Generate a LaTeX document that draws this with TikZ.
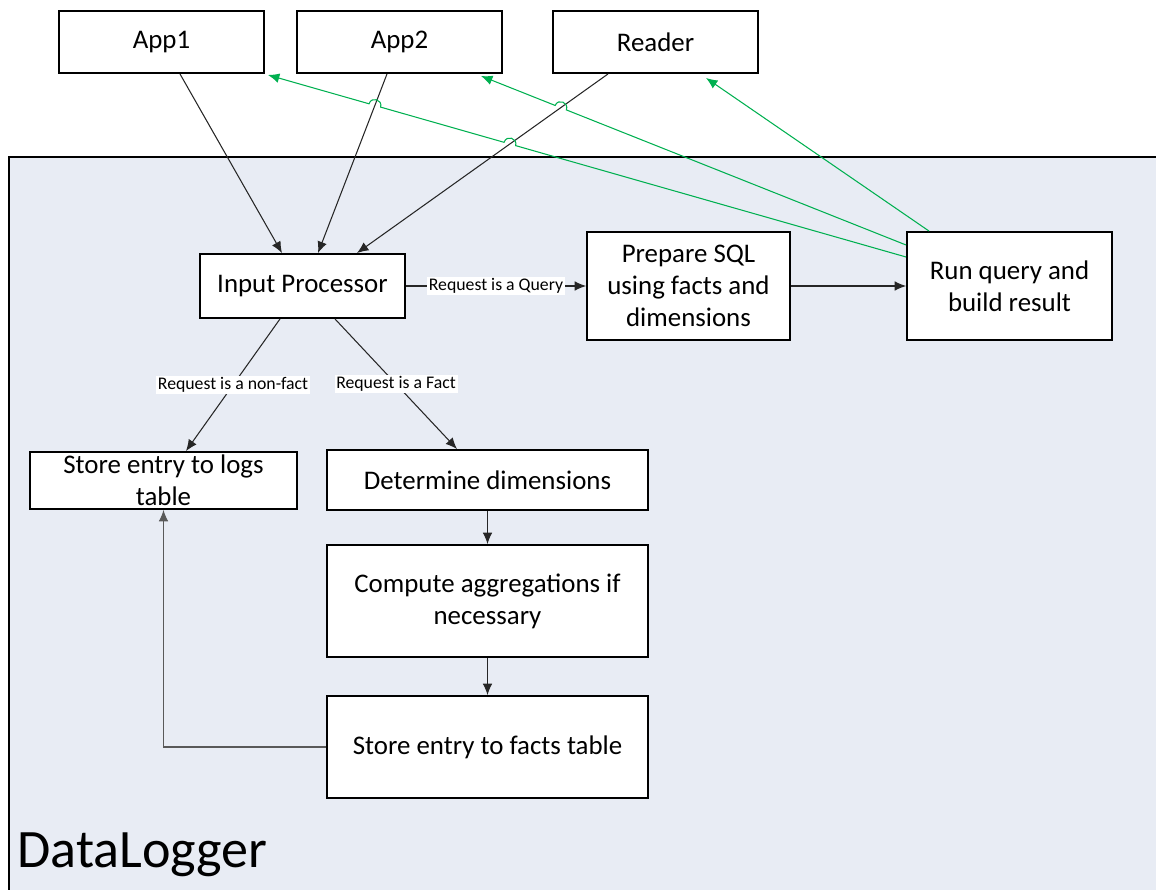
\documentclass[tikz,border=0pt]{standalone}
\usepackage{fontspec}
\setmainfont{Carlito}
\usepackage{tikz}
\usetikzlibrary{arrows.meta}
\usetikzlibrary{calc, intersections}

\definecolor{loggerbg}{RGB}{232,236,244}
\definecolor{replygreen}{RGB}{0,176,80}
\newcommand{\boxfont}{\fontsize{15.3}{18.1}\selectfont}

\tikzset{
  box/.style={draw=black, line width=1.1pt, fill=white, align=center, inner sep=2pt, font=\boxfont},
  flow/.style={draw=black!85, line width=0.6pt, -{Latex[length=6.5pt,width=5.5pt]}},
  reply/.style={draw=replygreen, line width=0.6pt, -{Latex[length=6.5pt,width=5.5pt]}},
  cond/.style={fill=white, inner sep=1pt, font=\fontsize{10.1}{12}\selectfont},
  hop/.style={bend right=90, looseness=1.7}
}

\begin{document}
\begin{tikzpicture}[x=0.02cm, y=-0.02cm]
\useasboundingbox (0,0) rectangle (1156,889);

% the logger itself
\fill[loggerbg] (9,157) rectangle (1180,900);
\draw[line width=0.9pt] (9,900) -- (9,157) -- (1180,157);
\node[anchor=base west, inner sep=0pt, font=\fontsize{30.8}{36}\selectfont] (logger) at (17,867) {DataLogger};

% clients
\node[box, minimum width=4.1cm, minimum height=1.24cm] (app1) at (161.5,42) {App1};
\node[box, minimum width=4.1cm, minimum height=1.24cm] (app2) at (399.5,42) {App2};
\node[box, minimum width=4.1cm, minimum height=1.24cm] (reader) at (655.5,42) {Reader};

% steps inside the logger
\node[box, minimum width=4.1cm, minimum height=1.28cm] (inp) at (302.5,286) {Input Processor};
\node[box, minimum width=4.06cm, minimum height=2.16cm] (prep) at (688.5,286) {Prepare SQL\\using facts and\\dimensions};
\node[box, minimum width=4.1cm, minimum height=2.16cm] (runq) at (1009.5,286) {Run query and\\build result};
\node[box, minimum width=5.34cm, minimum height=1.14cm,
  label={[font=\boxfont, align=center]center:Store entry to logs\\table}] (logs) at (163.5,480.5) {};
\node[box, minimum width=6.42cm, minimum height=1.2cm] (dims) at (487.5,480) {Determine dimensions};
\node[box, minimum width=6.42cm, minimum height=2.24cm] (aggr) at (487.5,601) {Compute aggregations if\\necessary};
\node[box, minimum width=6.42cm, minimum height=2.04cm] (facts) at (487.5,747) {Store entry to facts table};

% requests
\draw[flow] ([shift={(18.5,0)}]app1.south) -- ([shift={(-20.5,0)}]inp.north);
\draw[flow, name path=app2in] ([shift={(-12.5,0)}]app2.south) -- ([shift={(15.5,0)}]inp.north);
\draw[flow, name path=readerin] ([shift={(-47.5,0)}]reader.south) -- ([shift={(54.5,0)}]inp.north);

\draw[flow] (inp.east) -- node[cond] {Request is a Query} (prep.west);
\draw[flow] (prep.east) -- (runq.west);
\draw[flow] ([shift={(-22.5,0)}]inp.south) -- node[cond] {Request is a non-fact} ([shift={(22.5,0)}]logs.north);
\draw[flow] ([shift={(32.5,0)}]inp.south) -- node[cond] {Request is a Fact} ([shift={(-30.5,0)}]dims.north);
\draw[flow] (dims) -- (aggr);
\draw[flow] (aggr) -- (facts);
\draw[flow, draw=black!65] (facts.west) -| (logs.south);

% results back to the clients
\coordinate (r1) at ([shift={(0,-29)}]runq.west);
\coordinate (a1) at ([shift={(3,1)}]app1.south east);
\coordinate (r2) at ([shift={(0,-41)}]runq.west);
\coordinate (a2) at ([shift={(81.5,2)}]app2.south);
\path[name path=back1] (r1) -- (a1);
\path[name path=back2] (r2) -- (a2);
\path[name intersections={of=back1 and readerin, by=x1}];
\path[name intersections={of=back1 and app2in, by=x2}];
\path[name intersections={of=back2 and readerin, by=x3}];

\draw[reply] (r1) -- ($(x1)!0.12cm!(r1)$) to[hop] ($(x1)!0.12cm!(a1)$)
  -- ($(x2)!0.12cm!(r1)$) to[hop] ($(x2)!0.12cm!(a1)$) -- (a1);
\draw[reply] (r2) -- ($(x3)!0.12cm!(r2)$) to[hop] ($(x3)!0.12cm!(a2)$) -- (a2);
\draw[reply] ([shift={(-80.5,0)}]runq.north) -- ([shift={(50.5,4)}]reader.south);

\end{tikzpicture}
\end{document}
